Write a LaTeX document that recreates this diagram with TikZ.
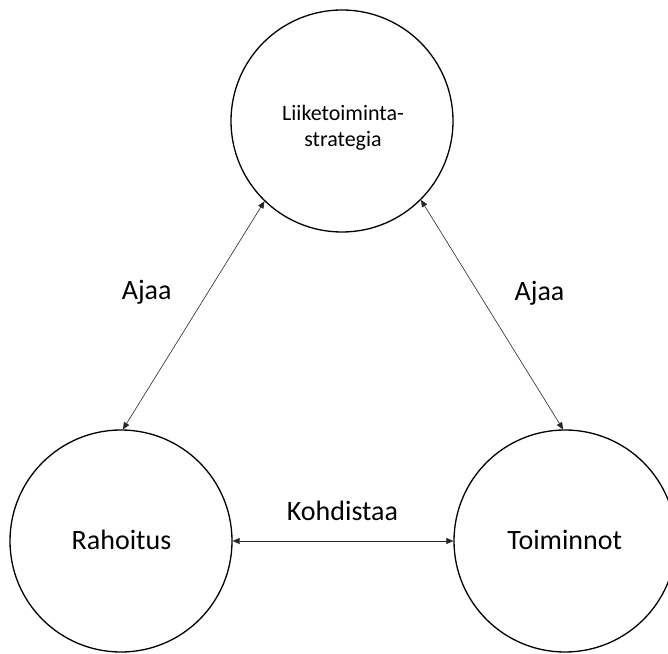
\documentclass[tikz,border=0pt]{standalone}
\usepackage{fontspec}
\setmainfont{Carlito}
\usetikzlibrary{arrows.meta}
\tikzset{
  bubble/.style={circle, draw=black, line width=1.3pt, minimum size=222pt, inner sep=0pt},
  lbl/.style={font=\fontsize{28}{34}\selectfont, anchor=base, inner sep=0pt},
  toplbl/.style={font=\fontsize{22}{26}\selectfont, align=center, inner sep=0pt},
  link/.style={line width=0.6pt, draw=black!85, {Triangle[length=7pt,width=6pt]}-{Triangle[length=7pt,width=6pt]}}
}
\begin{document}
\begin{tikzpicture}[x=1pt,y=1pt]
\useasboundingbox (0,0) rectangle (668,653);
\node[bubble] (T) at (342,532) {};
\node[bubble] (L) at (121,112) {};
\node[bubble] (R) at (565,112) {};
\node[toplbl] (tT) at (343,525) {Liiketoiminta-\\strategia};
\node[lbl] (tL) at (121.5,104) {Rahoitus};
\node[lbl] (tR) at (564.7,104) {Toiminnot};
\node[lbl] (k) at (342.5,133) {Kohdistaa};
\node[lbl] (a1) at (146.7,353.7) {Ajaa};
\node[lbl] (a2) at (539.5,352) {Ajaa};
\draw[link] (T.226) -- (L.89);
\draw[link] (T.315) -- (R.91);
\draw[link] (L.east) -- (R.west);
\end{tikzpicture}
\end{document}
